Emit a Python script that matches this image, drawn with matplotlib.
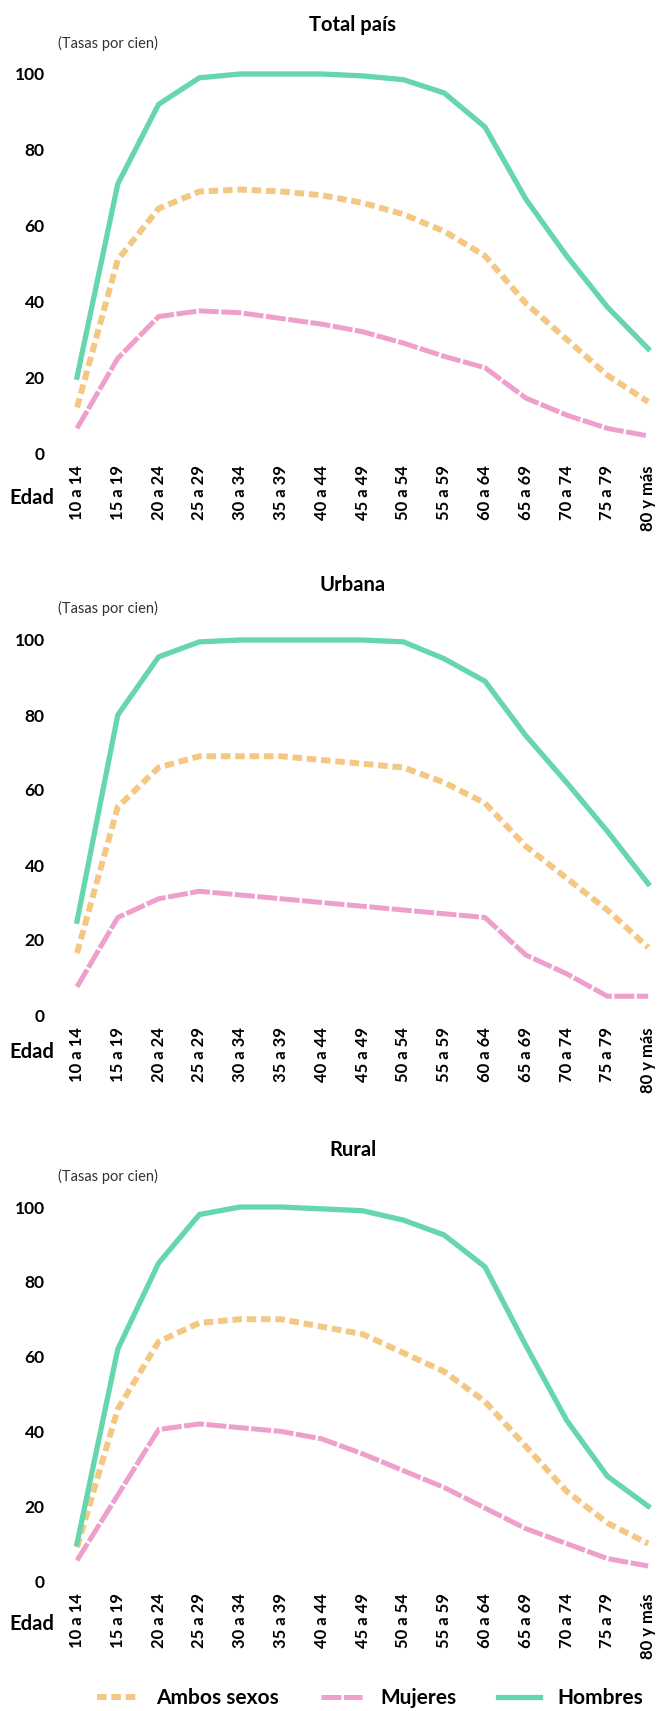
import matplotlib
matplotlib.use('Agg')
import matplotlib.pyplot as plt

edades = ['10 a 14', '15 a 19', '20 a 24', '25 a 29', '30 a 34', '35 a 39', '40 a 44',
          '45 a 49', '50 a 54', '55 a 59', '60 a 64', '65 a 69', '70 a 74', '75 a 79', '80 y más']

total_hombres = [20, 71, 92, 99, 100, 100, 100, 99.5, 98.5, 95, 86, 67, 52, 38.5, 27.5]
total_ambos = [12, 51, 64.5, 69, 69.5, 69, 68, 66, 63, 58.5, 52, 39.5, 30, 20.5, 13.5]
total_mujeres = [6.5, 25, 36, 37.5, 37, 35.5, 34, 32, 29, 25.5, 22.5, 14.5, 10, 6.5, 4.5]

urbana_hombres = [25, 80, 95.5, 99.5, 100, 100, 100, 100, 99.5, 95, 89, 74.5, 62, 49, 35]
urbana_ambos = [16.5, 55.5, 66, 69, 69, 69, 68, 67, 66, 62, 56.5, 45, 36.5, 28, 18]
urbana_mujeres = [7.5, 26, 31, 33, 32, 31, 30, 29, 28, 27, 26, 16, 11, 5, 5]

rural_hombres = [10, 62, 85, 98, 100, 100, 99.5, 99, 96.5, 92.5, 84, 63, 43, 28, 20]
rural_ambos = [9, 46, 64, 69, 70, 70, 68, 66, 61, 56, 48, 36, 24, 15.5, 10]
rural_mujeres = [5.5, 23, 40.5, 42, 41, 40, 38, 34, 29.5, 25, 19.5, 14, 10, 6, 4]

titulos = ['Total país', 'Urbana', 'Rural']
yticks = [0, 20, 40, 60, 80, 100]

VERDE = '#66d6ad'
NARANJA = '#f4c883'
ROSA = '#ef9fcc'
FONT = ['Lato', 'DejaVu Sans']

W, H = 660, 1711
fig = plt.figure(figsize=(W / 100, H / 100), dpi=100)

# pixel layout of each panel: y of value 0, y of value 100, title y, tasas y, edad y
paneles = [
    (453, 74, 25, 43, 498),
    (1015, 640, 585, 608, 1052),
    (1581, 1207, 1150, 1176, 1624),
]
datos = [
    (total_ambos, total_mujeres, total_hombres),
    (urbana_ambos, urbana_mujeres, urbana_hombres),
    (rural_ambos, rural_mujeres, rural_hombres),
]

x_left, x_right = 60, 655
step = 40.8
xmin = -(77 - x_left) / step
xmax = xmin + (x_right - x_left) / step
x = list(range(len(edades)))

handles = None
for (y0, y100, ty, tasy, edy), (ambos, mujeres, hombres), titulo in zip(paneles, datos, titulos):
    ppu = (y0 - y100) / 100.0
    top_val = 104
    top_px = y0 - top_val * ppu
    ax = fig.add_axes([x_left / W, 1 - y0 / H, (x_right - x_left) / W, (y0 - top_px) / H])
    ax.set_xlim(xmin, xmax)
    ax.set_ylim(0, top_val)
    la, = ax.plot(x, ambos, color=NARANJA, lw=4.3, dashes=(1.6, 0.8), clip_on=False,
                  label='Ambos sexos')
    lm, = ax.plot(x, mujeres, color=ROSA, lw=3.6, dashes=(4, 0.5), clip_on=False,
                  label='Mujeres')
    lh, = ax.plot(x, hombres, color=VERDE, lw=3.8, clip_on=False, label='Hombres')
    handles = [la, lm, lh]
    for s in ax.spines.values():
        s.set_visible(False)
    ax.set_yticks(yticks)
    ax.set_yticklabels([str(v) for v in yticks], family=FONT, fontweight='bold', fontsize=12.5)
    ax.set_xticks(x)
    ax.set_xticklabels(edades, rotation=90, family=FONT, fontweight='bold', fontsize=12)
    ax.tick_params(axis='y', length=0, pad=11)
    ax.tick_params(axis='x', length=0, pad=9)

    fig.text(353 / W, 1 - ty / H, titulo, ha='center', va='center',
             family=FONT, fontweight='bold', fontsize=14.5)
    fig.text(58 / W, 1 - tasy / H, '(Tasas por cien)', ha='left', va='center',
             family=FONT, fontsize=10.5, color='#333333')
    fig.text(32 / W, 1 - edy / H, 'Edad', ha='center', va='center',
             family=FONT, fontweight='bold', fontsize=14.5)

leg = fig.legend(handles=handles, loc='center', bbox_to_anchor=(370 / W, 1 - 1698 / H),
                 ncol=3, frameon=False, handlelength=2.0, handletextpad=0.85,
                 columnspacing=2.0,
                 prop={'family': FONT, 'weight': 'bold', 'size': 15})

fig.savefig('out.png', dpi=100, facecolor='white')
